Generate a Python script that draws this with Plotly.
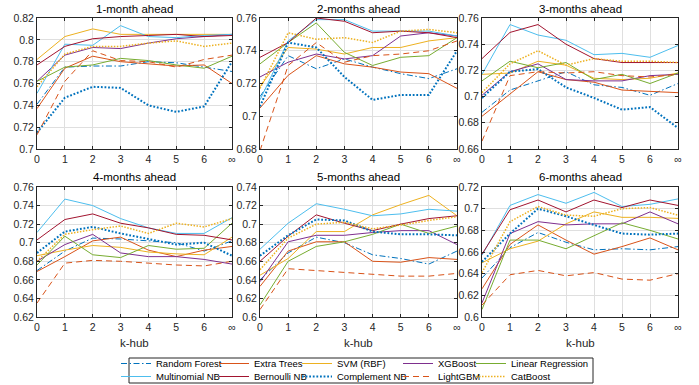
import plotly.graph_objects as go

W, H = 699, 385

k_hub = [0, 1, 2, 3, 4, 5, 6, 7]
k_hub_labels = ["0", "1", "2", "3", "4", "5", "6", "∞"]
titles = ["1-month ahead", "2-months ahead", "3-months ahead",
          "4-months ahead", "5-months ahead", "6-months ahead"]
y_ranges = [[0.70, 0.82], [0.68, 0.76], [0.66, 0.76],
            [0.62, 0.76], [0.60, 0.74], [0.60, 0.72]]

# each model: one row per horizon (1..6 months), values for k-hub 0..6, inf
random_forest = [
    [0.741, 0.775, 0.776, 0.776, 0.780, 0.779, 0.775, 0.771],
    [0.712, 0.737, 0.729, 0.735, 0.730, 0.726, 0.723, 0.729],
    [0.688, 0.705, 0.712, 0.719, 0.709, 0.707, 0.701, 0.710],
    [0.670, 0.691, 0.705, 0.704, 0.702, 0.700, 0.691, 0.702],
    [0.640, 0.669, 0.686, 0.680, 0.667, 0.663, 0.657, 0.671],
    [0.636, 0.664, 0.678, 0.669, 0.662, 0.663, 0.662, 0.665],
]
extra_trees = [
    [0.737, 0.774, 0.785, 0.780, 0.778, 0.776, 0.777, 0.760],
    [0.705, 0.725, 0.737, 0.732, 0.730, 0.727, 0.726, 0.717],
    [0.685, 0.702, 0.719, 0.713, 0.711, 0.705, 0.704, 0.703],
    [0.669, 0.685, 0.702, 0.706, 0.692, 0.685, 0.692, 0.696],
    [0.633, 0.671, 0.681, 0.681, 0.660, 0.659, 0.664, 0.662],
    [0.626, 0.667, 0.685, 0.671, 0.658, 0.665, 0.673, 0.662],
]
svm_rbf = [
    [0.782, 0.803, 0.810, 0.805, 0.805, 0.805, 0.805, 0.805],
    [0.718, 0.742, 0.741, 0.738, 0.742, 0.742, 0.746, 0.748],
    [0.717, 0.718, 0.727, 0.724, 0.714, 0.713, 0.714, 0.718],
    [0.686, 0.692, 0.697, 0.695, 0.690, 0.688, 0.687, 0.706],
    [0.645, 0.663, 0.692, 0.692, 0.710, 0.721, 0.731, 0.709],
    [0.650, 0.663, 0.670, 0.686, 0.697, 0.692, 0.692, 0.691],
]
xgboost = [
    [0.762, 0.786, 0.793, 0.792, 0.797, 0.801, 0.803, 0.805],
    [0.724, 0.733, 0.738, 0.735, 0.737, 0.749, 0.751, 0.749],
    [0.701, 0.719, 0.725, 0.713, 0.712, 0.712, 0.716, 0.717],
    [0.680, 0.698, 0.709, 0.689, 0.685, 0.685, 0.682, 0.677],
    [0.638, 0.681, 0.688, 0.688, 0.691, 0.693, 0.693, 0.678],
    [0.613, 0.677, 0.688, 0.685, 0.686, 0.686, 0.697, 0.686],
]
linear_regression = [
    [0.762, 0.775, 0.777, 0.783, 0.781, 0.777, 0.774, 0.785],
    [0.732, 0.745, 0.757, 0.739, 0.731, 0.736, 0.737, 0.748],
    [0.712, 0.727, 0.722, 0.726, 0.713, 0.717, 0.710, 0.718],
    [0.676, 0.707, 0.687, 0.684, 0.697, 0.693, 0.694, 0.721],
    [0.613, 0.660, 0.676, 0.681, 0.689, 0.700, 0.690, 0.698],
    [0.607, 0.671, 0.671, 0.663, 0.675, 0.687, 0.680, 0.672],
]
multinomial_nb = [
    [0.751, 0.796, 0.795, 0.813, 0.803, 0.802, 0.804, 0.805],
    [0.710, 0.746, 0.759, 0.759, 0.752, 0.752, 0.752, 0.749],
    [0.717, 0.755, 0.747, 0.743, 0.732, 0.733, 0.730, 0.739],
    [0.711, 0.747, 0.740, 0.726, 0.716, 0.710, 0.710, 0.727],
    [0.673, 0.701, 0.722, 0.716, 0.709, 0.711, 0.716, 0.714],
    [0.657, 0.703, 0.713, 0.705, 0.715, 0.702, 0.704, 0.709],
]
bernoulli_nb = [
    [0.777, 0.794, 0.801, 0.803, 0.804, 0.805, 0.803, 0.804],
    [0.736, 0.745, 0.760, 0.758, 0.751, 0.752, 0.751, 0.748],
    [0.729, 0.749, 0.755, 0.740, 0.729, 0.726, 0.726, 0.726],
    [0.703, 0.725, 0.731, 0.721, 0.716, 0.709, 0.708, 0.703],
    [0.660, 0.687, 0.710, 0.701, 0.693, 0.700, 0.706, 0.709],
    [0.658, 0.699, 0.708, 0.697, 0.708, 0.701, 0.708, 0.703],
]
complement_nb = [
    [0.715, 0.747, 0.757, 0.756, 0.740, 0.734, 0.739, 0.780],
    [0.706, 0.745, 0.742, 0.724, 0.710, 0.713, 0.713, 0.740],
    [0.699, 0.719, 0.721, 0.707, 0.699, 0.690, 0.692, 0.676],
    [0.689, 0.712, 0.717, 0.710, 0.704, 0.698, 0.700, 0.686],
    [0.666, 0.688, 0.705, 0.704, 0.692, 0.689, 0.689, 0.688],
    [0.651, 0.677, 0.700, 0.693, 0.685, 0.677, 0.676, 0.677],
]
lightgbm = [
    [0.713, 0.762, 0.790, 0.781, 0.780, 0.775, 0.782, 0.786],
    [0.679, 0.731, 0.745, 0.733, 0.737, 0.738, 0.740, 0.746],
    [0.666, 0.716, 0.719, 0.718, 0.719, 0.716, 0.715, 0.717],
    [0.635, 0.678, 0.681, 0.680, 0.678, 0.676, 0.675, 0.680],
    [0.608, 0.652, 0.650, 0.648, 0.646, 0.644, 0.644, 0.647],
    [0.611, 0.639, 0.643, 0.638, 0.641, 0.635, 0.634, 0.640],
]
catboost = [
    [0.757, 0.787, 0.794, 0.794, 0.797, 0.799, 0.794, 0.797],
    [0.717, 0.751, 0.747, 0.748, 0.745, 0.752, 0.753, 0.751],
    [0.703, 0.725, 0.735, 0.724, 0.729, 0.727, 0.727, 0.726],
    [0.680, 0.709, 0.714, 0.718, 0.710, 0.721, 0.717, 0.726],
    [0.651, 0.685, 0.700, 0.702, 0.695, 0.699, 0.704, 0.708],
    [0.641, 0.688, 0.702, 0.694, 0.693, 0.700, 0.701, 0.694],
]

model_names = ["Random Forest", "Extra Trees", "SVM (RBF)", "XGBoost", "Linear Regression",
               "Multinomial NB", "Bernoulli NB", "Complement NB", "LightGBM", "CatBoost"]
model_values = [random_forest, extra_trees, svm_rbf, xgboost, linear_regression,
                multinomial_nb, bernoulli_nb, complement_nb, lightgbm, catboost]

# styles
colors = ["#0072BD", "#D95319", "#EDB120", "#7E2F8E", "#77AC30",
          "#4DBEEE", "#A2142F", "#0072BD", "#D95319", "#EDB120"]
dashes = ["6px,2.5px,1.5px,2.5px", "solid", "solid", "solid", "solid",
          "solid", "solid", "1.8px,1.8px", "6px,4px", "1.5px,1.5px"]
widths = [1, 1, 1, 1, 1, 1, 1, 2, 1, 1.5]

FONT = "Liberation Sans, Arial, Helvetica, sans-serif"
AX = "#262626"
GRID = "#dfdfdf"

# subplot boxes in pixels (left, right, top, bottom)
col_px = [(37, 232), (260, 457), (482, 678)]
row_px = [(18, 149), (187, 317)]

fig = go.Figure()
layout = {}
annotations = []
for i in range(6):
    r, c = divmod(i, 3)
    xl, xr = col_px[c]
    yt, yb = row_px[r]
    n = "" if i == 0 else str(i + 1)
    layout["xaxis" + n] = dict(
        domain=[xl / W, xr / W], anchor="y" + n, range=[0, 7],
        tickvals=k_hub, ticktext=k_hub_labels,
        showline=True, mirror="ticks", linecolor=AX, linewidth=1,
        ticks="inside", ticklen=3, tickcolor=AX, tickwidth=1,
        showgrid=True, gridcolor=GRID, gridwidth=1, zeroline=False,
        tickfont=dict(family=FONT, size=10.5, color=AX),
    )
    layout["yaxis" + n] = dict(
        domain=[1 - yb / H, 1 - yt / H], anchor="x" + n, range=y_ranges[i],
        dtick=0.02, tick0=0,
        showline=True, mirror="ticks", linecolor=AX, linewidth=1,
        ticks="inside", ticklen=3, tickcolor=AX, tickwidth=1,
        showgrid=True, gridcolor=GRID, gridwidth=1, zeroline=False,
        tickfont=dict(family=FONT, size=10.5, color=AX),
    )
    xc = (xl + xr) / 2 / W
    annotations.append(dict(text=titles[i], x=xc, y=1 - (9.5 if r == 0 else 177) / H,
                            xref="paper", yref="paper", showarrow=False,
                            xanchor="center", yanchor="middle",
                            font=dict(family=FONT, size=11.5, color="#000")))
    if r == 1:
        annotations.append(dict(text="k-hub", x=xc, y=1 - 343 / H,
                                xref="paper", yref="paper", showarrow=False,
                                xanchor="center", yanchor="middle",
                                font=dict(family=FONT, size=11.5, color=AX)))

    for m in range(10):
        fig.add_trace(go.Scatter(
            x=k_hub, y=model_values[m][i], mode="lines", name=model_names[m],
            line=dict(color=colors[m], dash=dashes[m], width=widths[m]),
            xaxis="x" + n, yaxis="y" + n,
            showlegend=(i == 0), legend="legend" if m == 0 else "legend" + str(m + 1),
        ))

# legend: 5 columns x 2 rows
text_starts = [159, 257, 340, 441, 514]
row_centers = [363.5, 376.5]
for m in range(10):
    rr, cc = divmod(m, 5)
    key = "legend" if m == 0 else "legend" + str(m + 1)
    layout[key] = dict(
        x=(text_starts[cc] - 43) / W, xanchor="left",
        y=1 - row_centers[rr] / H, yanchor="middle",
        bgcolor="rgba(0,0,0,0)", borderwidth=0,
        font=dict(family=FONT, size=9.5, color="#000"),
        itemwidth=30, tracegroupgap=0,
    )

fig.update_layout(
    width=W, height=H, margin=dict(l=0, r=0, t=0, b=0, autoexpand=False),
    paper_bgcolor="white", plot_bgcolor="white",
    annotations=annotations,
    shapes=[dict(type="rect", xref="paper", yref="paper",
                 x0=129 / W, x1=593 / W, y0=1 - 383 / H, y1=1 - 358 / H,
                 line=dict(color=AX, width=1), fillcolor="rgba(0,0,0,0)")],
    **layout,
)

fig.write_html("out.html")
